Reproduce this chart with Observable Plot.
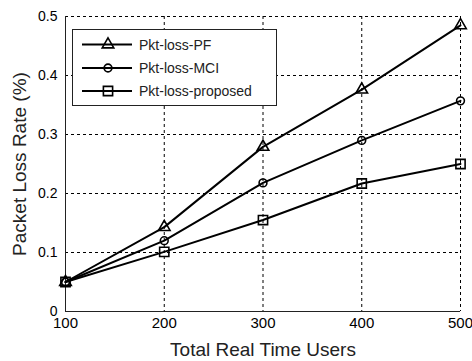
<!DOCTYPE html>
<html><head><meta charset="utf-8">
<script src="https://cdn.jsdelivr.net/npm/d3@7"></script>
<script src="https://cdn.jsdelivr.net/npm/@observablehq/plot@0.6"></script>
<style>
body{margin:0;background:#fff;}
#wrap{position:relative;width:472px;height:361px;font-family:"Liberation Sans",Arial,sans-serif;}
#legend{position:absolute;left:72px;top:29px;}
</style></head><body><div id="wrap"></div>
<script>
const users = [100, 200, 300, 400, 500];
const seriesNames = ["Pkt-loss-PF", "Pkt-loss-MCI", "Pkt-loss-proposed"];
const pf = [0.05, 0.143, 0.279, 0.376, 0.485];
const mci = [0.05, 0.12, 0.218, 0.29, 0.357];
const proposed = [0.05, 0.101, 0.155, 0.217, 0.25];
const symbols = ["triangle", "circle", "square"];
const xTicks = [100, 200, 300, 400, 500];
const yTicks = [0, 0.1, 0.2, 0.3, 0.4, 0.5];
const yTickLabels = ["0", "0.1", "0.2", "0.3", "0.4", "0.5"];
const xLabel = "Total Real Time Users";
const yLabel = "Packet Loss Rate (%)";

const values = [pf, mci, proposed];
const data = values.flatMap((vals, i) => vals.map((v, j) => ({series: seriesNames[i], x: users[j], y: v})));
const radius = {triangle: 4.3, circle: 3.9, square: 5.2};

const font = "Liberation Sans, Arial, sans-serif";
const dash = {stroke: "black", strokeOpacity: 1, strokeDasharray: "3,3", strokeWidth: 1};

const chart = Plot.plot({
  width: 472, height: 361,
  marginLeft: 65, marginRight: 12, marginTop: 16, marginBottom: 50,
  style: {fontFamily: font, background: "white", color: "black"},
  x: {domain: [100, 500]},
  y: {domain: [0, 0.5]},
  marks: [
    Plot.gridX(xTicks, dash),
    Plot.gridY(yTicks, dash),
    Plot.ruleX([100], {stroke: "#222", strokeWidth: 1}),
    Plot.ruleY([0], {stroke: "#222", strokeWidth: 1}),
    Plot.axisX(xTicks, {tickSize: 0, tickPadding: 6, fontSize: 15, label: null}),
    Plot.axisY(yTicks, {tickSize: 0, tickPadding: 8, fontSize: 14, label: null,
      tickFormat: d => yTickLabels[yTicks.indexOf(d)]}),
    Plot.line(data, {x: "x", y: "y", z: "series", stroke: "black", strokeWidth: 2}),
    ...seriesNames.map((s, i) => Plot.dot(data.filter(d => d.series === s), {
      x: "x", y: "y", symbol: symbols[i], r: radius[symbols[i]],
      stroke: "black", strokeWidth: 1.6, fill: "none"})),
    Plot.text([xLabel], {text: d => d, frameAnchor: "bottom", dy: 38, fontSize: 19, lineAnchor: "middle", fill: "#222"}),
    Plot.text([yLabel], {text: d => d, frameAnchor: "left", dx: -46, rotate: -90, fontSize: 19,
      textAnchor: "middle", lineAnchor: "middle", fill: "#222"})
  ]
});
document.getElementById("wrap").appendChild(chart);

// legend overlay
const lw = 205, lh = 77;
const leg = d3.select("#wrap").append("svg").attr("id", "legend")
  .attr("width", lw).attr("height", lh);
leg.append("rect").attr("x", 0.5).attr("y", 0.5).attr("width", lw - 1).attr("height", lh - 1)
  .attr("fill", "white").attr("stroke", "#222");
const rowY = [15.5, 39, 62];
const symMap = {triangle: d3.symbolTriangle, circle: d3.symbolCircle, square: d3.symbolSquare};
seriesNames.forEach((s, i) => {
  const g = leg.append("g").attr("transform", `translate(0,${rowY[i]})`);
  g.append("line").attr("x1", 10).attr("x2", 60).attr("y1", 0).attr("y2", 0)
    .attr("stroke", "black").attr("stroke-width", 2);
  g.append("path").attr("transform", "translate(36,0)")
    .attr("d", d3.symbol().type(symMap[symbols[i]]).size(Math.PI * radius[symbols[i]] ** 2)())
    .attr("fill", "none").attr("stroke", "black").attr("stroke-width", 1.6);
  g.append("text").attr("x", 67).attr("y", 0).attr("dy", "0.36em")
    .attr("font-family", font).attr("font-size", 14).attr("fill", "#222").text(s);
});
</script></body></html>
